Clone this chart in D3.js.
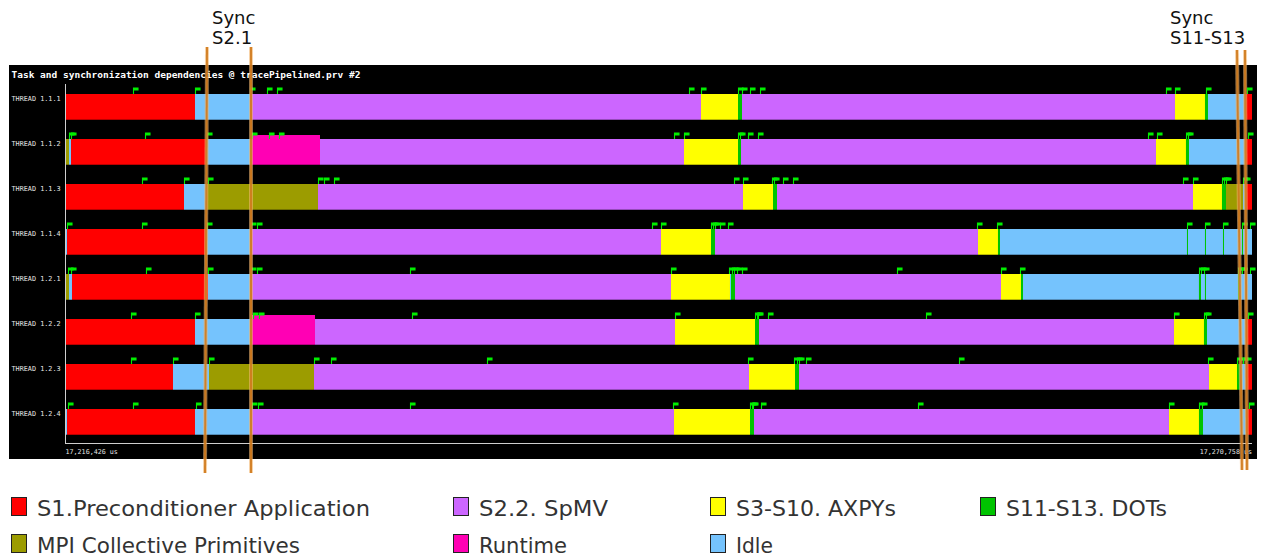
<!DOCTYPE html>
<html>
<head>
<meta charset="utf-8">
<script src="https://cdn.jsdelivr.net/npm/d3@7"></script>
<style>
  html, body { margin: 0; padding: 0; background: #ffffff; }
  svg { display: block; }
</style>
</head>
<body>
<svg id="chart" width="1267" height="557"></svg>
<script>
// ---------------- DATA ----------------
const windowStart = 17216426;   // us
const windowEnd   = 17270758;   // us
const chartTitle = "Task and synchronization dependencies @ tracePipelined.prv #2";
const threads = ["THREAD 1.1.1","THREAD 1.1.2","THREAD 1.1.3","THREAD 1.1.4",
                 "THREAD 1.2.1","THREAD 1.2.2","THREAD 1.2.3","THREAD 1.2.4"];

const stateKeys   = ["S1","SPMV","AXPY","DOT","MPI","RT","IDLE"];
const stateLabels = ["S1.Preconditioner Application","S2.2. SpMV","S3-S10. AXPYs",
                     "S11-S13. DOTs","MPI Collective Primitives","Runtime","Idle"];
const stateColors = ["#ff0000","#cc66ff","#ffff00","#00c400","#9c9c00","#ff00b4","#75c3fd"];

// state bursts per thread: [state, start offset in us from windowStart]; each lasts until the next
const seg111 = [["S1",0],["IDLE",5950],["SPMV",8468],["AXPY",29111],["DOT",30805],["SPMV",30988],
  ["AXPY",50807],["DOT",52180],["IDLE",52317],["S1",54057]];
const seg112 = [["MPI",0],["IDLE",183],["S1",275],["IDLE",6454],["RT",8559],["SPMV",11672],
  ["AXPY",28333],["DOT",30805],["SPMV",30942],["AXPY",49937],["DOT",51310],["IDLE",51448],["S1",54057]];
const seg113 = [["S1",0],["IDLE",5447],["MPI",6500],["SPMV",11580],["AXPY",31033],["DOT",32407],
  ["SPMV",32590],["AXPY",51631],["DOT",52958],["MPI",53141],["IDLE",53919],["S1",54057]];
const seg114 = [["IDLE",0],["S1",92],["IDLE",6454],["SPMV",8514],["AXPY",27280],["DOT",29569],
  ["SPMV",29752],["AXPY",41790],["DOT",42705],["IDLE",42797],["DOT",51356],["IDLE",51402],
  ["DOT",52180],["IDLE",52226],["DOT",53004],["IDLE",53050],["DOT",53874],["IDLE",53919]];
const seg121 = [["MPI",0],["IDLE",183],["S1",320],["IDLE",6545],["SPMV",8514],["AXPY",27738],
  ["IDLE",30438],["DOT",30484],["SPMV",30667],["AXPY",42843],["DOT",43758],["IDLE",43850],
  ["DOT",51905],["IDLE",51997],["DOT",52180],["IDLE",52226],["DOT",53691],["IDLE",53737]];
const seg122 = [["S1",0],["IDLE",5950],["RT",8559],["SPMV",11443],["AXPY",27921],["DOT",31583],
  ["SPMV",31766],["AXPY",50761],["DOT",52134],["IDLE",52272],["S1",54057]];
const seg123 = [["S1",0],["IDLE",4943],["MPI",6591],["SPMV",11397],["AXPY",31308],["DOT",33414],
  ["SPMV",33597],["AXPY",52363],["DOT",53645],["IDLE",53782],["S1",54057]];
const seg124 = [["IDLE",0],["S1",92],["IDLE",5950],["SPMV",8559],["AXPY",27875],["DOT",31354],
  ["SPMV",31537],["AXPY",50532],["DOT",51905],["IDLE",52089],["S1",54102]];
const segments = [seg111, seg112, seg113, seg114, seg121, seg122, seg123, seg124];

// dependency / event flags per thread (us offset from windowStart)
const flags111 = [3112,5950,8468,9246,9704,28562,29111,30805,30988,31354,31811,50395,50807,52226,54102];
const flags112 = [183,275,3662,6500,8559,9337,9795,27875,28333,30805,30896,31262,31720,49571,49983,51310,51402,54148];
const flags113 = [3524,5447,6545,11580,11855,12313,30622,31033,32361,32452,32864,33322,51173,51631,52958,53050,53141,53919,54011];
const flags114 = [92,3524,6500,8514,8788,26868,27280,29569,29660,29752,29981,30347,41744,42660,51356,52180,53004,53874,54240];
const flags121 = [137,275,3708,6545,8514,8788,15791,27738,30393,30530,30622,30759,30988,38082,42843,43712,51905,51997,52134,53691,53782,53874,54240];
const flags122 = [3021,5950,8605,8880,15883,27921,31583,31674,31720,32178,39410,50761,52134,52226,54148];
const flags123 = [3021,4943,6591,11397,12175,19316,31262,33368,33505,33597,33917,40920,52317,53645,53782,53919,54057];
const flags124 = [137,3112,5996,8559,8834,15791,27829,31354,31446,31491,31857,39044,50532,51905,52043,54194];
const flags = [flags111, flags112, flags113, flags114, flags121, flags122, flags123, flags124];

// synchronisation annotations: [time at top, time at bottom]
const syncLines = [[6500, 6408],[8514, 8514],[53645, 53874],[54011, 54102]];
const syncLabels = [["Sync","S2.1"],["Sync","S11-S13"]];
const syncLabelTimes = [6730, 50578];

// ---------------- DRAW ----------------
const svg = d3.select("#chart");
const color = d3.scaleOrdinal().domain(stateKeys).range(stateColors);
const x = d3.scaleLinear().domain([windowStart, windowEnd]).range([65, 1252]);
const y = d3.scaleBand().domain(threads).range([84.5, 444.5]).paddingInner(0.4222).paddingOuter(0.2111);

// black panel
svg.append("rect").attr("x", 9).attr("y", 65).attr("width", 1248).attr("height", 394).attr("fill", "#000");

// title
svg.append("text").attr("x", 11.5).attr("y", 77.5)
  .attr("font-family", "DejaVu Sans Mono").attr("font-weight", "bold").attr("font-size", 9.5)
  .attr("fill", "#ffffff").text(chartTitle);

// thread labels
svg.append("g").selectAll("text").data(threads).join("text")
  .attr("x", 11.5).attr("y", d => y(d) + 7)
  .attr("font-family", "DejaVu Sans Mono").attr("font-size", 6.8)
  .attr("fill", "#e6e6e6").text(d => d);

// bars
const bars = [];
segments.forEach((seg, i) => {
  seg.forEach((s, j) => {
    const t0 = windowStart + s[1];
    const t1 = j < seg.length - 1 ? windowStart + seg[j + 1][1] : windowEnd;
    bars.push({thread: threads[i], state: s[0], t0, t1});
  });
});
svg.append("g").selectAll("rect").data(bars).join("rect")
  .attr("x", d => x(d.t0))
  .attr("width", d => Math.max(x(d.t1) - x(d.t0), 1.2))
  .attr("y", d => d.state === "RT" ? y(d.thread) - 4 : y(d.thread))
  .attr("height", d => d.state === "RT" ? y.bandwidth() + 4 : y.bandwidth())
  .attr("fill", d => color(d.state));

// subtle bottom edge of rows
svg.append("g").selectAll("rect").data(bars).join("rect")
  .attr("x", d => x(d.t0))
  .attr("width", d => Math.max(x(d.t1) - x(d.t0), 1.2))
  .attr("y", d => y(d.thread) + y.bandwidth() - 1)
  .attr("height", 1)
  .attr("fill", d => d3.color(color(d.state)).darker(0.9));

// flags
const flagData = [];
flags.forEach((arr, i) => arr.forEach(t => flagData.push({thread: threads[i], t: windowStart + t})));
const fg = svg.append("g");
fg.selectAll("path").data(flagData).join("path")
  .attr("d", d => {
    const px = Math.round(x(d.t)) + 0.5, top = y(d.thread);
    return `M${px},${top} V${top - 6} H${px + 4.5} V${top - 4} H${px}`;
  })
  .attr("fill", "#00ee00").attr("stroke", "#00ee00").attr("stroke-width", 1.1);

// axes
svg.append("line").attr("x1", 65.5).attr("x2", 65.5).attr("y1", 84).attr("y2", 443.5)
  .attr("stroke", "#cfcfcf").attr("stroke-width", 1);
svg.append("line").attr("x1", 65).attr("x2", x(windowEnd)).attr("y1", 443.5).attr("y2", 443.5)
  .attr("stroke", "#cfcfcf").attr("stroke-width", 1);
const fmt = d3.format(",");
svg.append("text").attr("x", x(windowStart) + 0.5).attr("y", 453.5)
  .attr("font-family", "DejaVu Sans Mono").attr("font-size", 6.7).attr("fill", "#e6e6e6")
  .text(fmt(windowStart) + " us");
svg.append("text").attr("x", x(windowEnd)).attr("y", 453.5).attr("text-anchor", "end")
  .attr("font-family", "DejaVu Sans Mono").attr("font-size", 6.7).attr("fill", "#e6e6e6")
  .text(fmt(windowEnd) + " us");

// sync lines
const syncTops = [47, 47, 50, 50];
const syncBottoms = [473, 473, 470, 470];
svg.append("g").selectAll("line").data(syncLines).join("line")
  .attr("x1", d => x(windowStart + d[0])).attr("x2", d => x(windowStart + d[1]))
  .attr("y1", (d, i) => syncTops[i]).attr("y2", (d, i) => syncBottoms[i])
  .attr("stroke", "#f2b56e").attr("stroke-width", 4).attr("opacity", 0.6);
svg.append("g").selectAll("line").data(syncLines).join("line")
  .attr("x1", d => x(windowStart + d[0])).attr("x2", d => x(windowStart + d[1]))
  .attr("y1", (d, i) => syncTops[i]).attr("y2", (d, i) => syncBottoms[i])
  .attr("stroke", "#d07a1c").attr("stroke-width", 2).attr("opacity", 0.9);

// sync labels
syncLabels.forEach((lbl, i) => {
  const tx = x(windowStart + syncLabelTimes[i]);
  lbl.forEach((line, k) => {
    svg.append("text").attr("x", tx).attr("y", 24 + k * 20)
      .attr("font-family", "DejaVu Sans").attr("font-size", 18).attr("fill", "#111")
      .text(line);
  });
});

// legend
const legendOrder = ["S1","SPMV","AXPY","DOT","MPI","RT","IDLE"];
const legendCols = [11, 453, 710, 980];
const legendWidths = {S1: 333, SPMV: 129, AXPY: 160, DOT: 161, MPI: 263, RT: 88, IDLE: 37};
const lg = svg.append("g");
legendOrder.forEach((k, i) => {
  const col = i < 4 ? i : i - 4;
  const row = i < 4 ? 0 : 1;
  const lx = legendCols[col], ly = 497 + row * 37;
  lg.append("rect").attr("x", lx + 0.5).attr("y", ly + 0.5).attr("width", 15).attr("height", 18)
    .attr("fill", color(k)).attr("stroke", "#222").attr("stroke-width", 1);
  lg.append("text").attr("x", lx + 26).attr("y", ly + 18.5)
    .attr("font-family", "DejaVu Sans").attr("font-size", 21.5).attr("fill", "#333")
    .attr("textLength", legendWidths[k]).attr("lengthAdjust", "spacingAndGlyphs")
    .text(stateLabels[stateKeys.indexOf(k)]);
});
</script>
</body>
</html>
